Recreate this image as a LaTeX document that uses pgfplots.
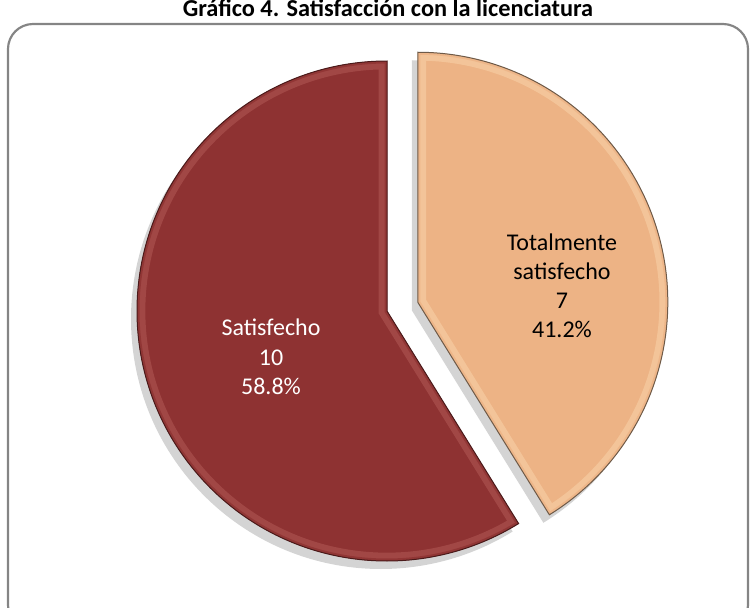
\documentclass[border=0pt]{standalone}
\usepackage{fontspec}
\setmainfont{Carlito}
\usepackage{pgfplots}
\pgfplotsset{compat=1.18}
\usepackage{pgfplotstable}

\definecolor{rojo}{HTML}{8E3232}
\definecolor{rojoclaro}{HTML}{D07A74}
\definecolor{rojoborde}{HTML}{4A1A1A}
\definecolor{durazno}{HTML}{EDB385}
\definecolor{duraznoclaro}{HTML}{FFE6C0}
\definecolor{duraznoborde}{HTML}{6E5A48}
\definecolor{marco}{HTML}{858585}
\definecolor{sombra}{HTML}{D4D4D4}

% valores de la encuesta
\pgfplotstableread{
etiqueta valor
Satisfecho 10
Totalmente 7
}\datos

\begin{document}
\begin{tikzpicture}
\pgfplotstablegetelem{0}{valor}\of\datos \let\va\pgfplotsretval
\pgfplotstablegetelem{1}{valor}\of\datos \let\vb\pgfplotsretval
\pgfmathsetmacro\tot{\va+\vb}
\pgfmathsetmacro\fin{90+360*\va/\tot}
\pgfmathsetmacro\ini{\fin-360}
\pgfmathsetmacro\bis{(90+\ini)/2}
\pgfmathsetmacro\pa{100*\va/\tot}
\pgfmathsetmacro\pb{100*\vb/\tot}
% 1 px = 0.6pt ; radio 250 px, separacion 32 px
\def\R{150pt}
\def\rojopath{(axis cs:387,311) -- ++(90:\R) arc[start angle=90, end angle=\fin, radius=\R] -- cycle}
\def\durpath{(axis cs:387,311) ++(\bis:19.2pt) -- ++(\ini:\R) arc[start angle=\ini, end angle=90, radius=\R] -- cycle}
\begin{axis}[
    name=ax, at={(0,0)}, anchor=south west,
    x=0.6pt, y=0.6pt, y dir=reverse,
    xmin=0, xmax=753, ymin=0, ymax=608,
    axis lines=none, clip=false,
    /pgf/number format/assume math mode=true,
]
% marco
\draw[marco, line width=1.3pt, rounded corners=15pt] (axis cs:8,24) rectangle (axis cs:748,630);
\node[anchor=base, font=\bfseries\fontsize{14.6pt}{16pt}\selectfont] at (axis cs:388,17) {Gráfico 4. Satisfacción con la licenciatura};
% sombras
\begin{scope}[shift={(-3.6pt,-4.8pt)}]
\fill[sombra] \rojopath;
\fill[sombra] \durpath;
\end{scope}
% porciones
\fill[rojo] \rojopath;
\begin{scope}
\clip \rojopath;
\draw[rojoclaro, line width=10pt, opacity=0.3] \rojopath;
\draw[rojo, line width=3pt, opacity=0.8] \rojopath;
\end{scope}
\draw[rojoborde, line width=0.6pt] \rojopath;
\fill[durazno] \durpath;
\begin{scope}
\clip \durpath;
\draw[duraznoclaro, line width=10pt, opacity=0.35] \durpath;
\draw[durazno, line width=3pt, opacity=0.8] \durpath;
\end{scope}
\draw[duraznoborde, line width=0.6pt] \durpath;
% etiquetas
\node[white, align=center, font=\fontsize{14.4pt}{17.7pt}\selectfont] at (axis cs:271,357)
  {Satisfecho\\\va\\\pgfmathprintnumber[fixed,precision=1]{\pa}\%};
\node[black, align=center, font=\fontsize{14.4pt}{17.4pt}\selectfont] at (axis cs:562,286)
  {Totalmente\\satisfecho\\\vb\\\pgfmathprintnumber[fixed,precision=1]{\pb}\%};
\end{axis}
\pgfresetboundingbox
\useasboundingbox (ax.south west) rectangle (ax.north east);
\end{tikzpicture}
\end{document}
